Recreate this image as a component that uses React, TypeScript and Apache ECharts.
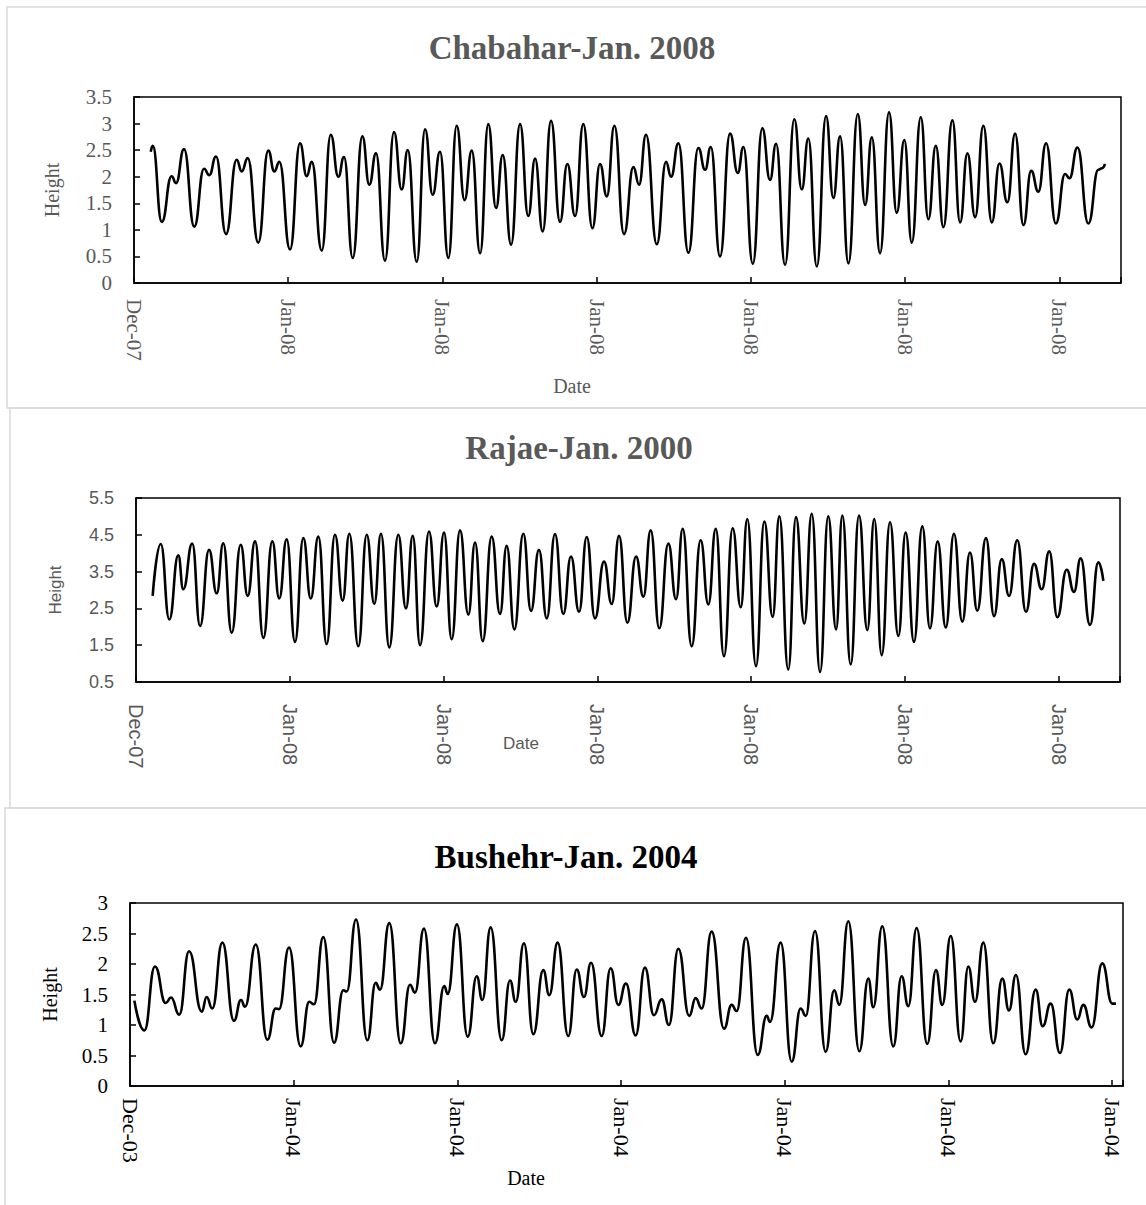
import React, { useEffect, useRef } from "react";
import * as echarts from "echarts";

// tide extrema: hours since the first axis tick, height (m)
const chabaharHours = [
  13.0, 14.6, 21.6, 29.3, 32.7, 38.9, 46.9, 54.5, 58.6, 63.8, 71.6, 79.9, 83.8, 88.5, 96.7,
  104.5, 109.2, 113.1, 121.4, 129.2, 134.4, 138.3, 146.1, 153.1, 159.0, 163.4, 170.2, 177.7,
  183.1, 188.3, 195.3, 202.3, 208.3, 213.0, 220.0, 226.5, 232.4, 238.1, 244.6, 251.1, 257.2,
  262.8, 269.3, 275.7, 281.7, 286.9, 293.4, 300.4, 306.8, 312.1, 318.0, 324.5, 331.5, 337.2,
  343.2, 349.6, 356.7, 362.6, 367.9, 373.8, 381.3, 388.6, 393.0, 398.4, 406.8, 414.0, 417.9,
  423.6, 431.4, 439.1, 444.4, 448.8, 456.0, 463.8, 469.8, 474.2, 481.5, 488.9, 494.9, 499.6,
  506.6, 513.8, 519.6, 524.7, 531.3, 538.5, 544.2, 549.4, 555.9, 563.2, 568.9, 574.1, 580.5,
  587.5, 593.5, 599.4, 605.2, 612.2, 618.1, 623.9, 629.8, 636.8, 642.8, 648.5, 654.5, 660.9,
  667.5, 673.4, 679.6, 685.6, 692.1, 698.1, 703.7, 709.7, 717.3, 724.5, 727.9, 734.1, 742.6,
  750.4, 753.1, 755.6,
];
const chabaharHeight = [
  2.47, 2.58, 1.15, 2.01, 1.88, 2.52, 1.06, 2.15, 2.03, 2.38, 0.92, 2.32, 2.1, 2.35, 0.76,
  2.49, 2.1, 2.28, 0.63, 2.63, 2.01, 2.28, 0.61, 2.79, 2.0, 2.37, 0.47, 2.76,
  1.85, 2.44, 0.42, 2.84, 1.76, 2.5, 0.4, 2.89, 1.66, 2.47, 0.47, 2.96, 1.56,
  2.49, 0.56, 2.99, 1.41, 2.41, 0.72, 2.99, 1.26, 2.34, 0.97, 3.05, 1.15, 2.24,
  1.26, 2.99, 1.03, 2.24, 1.63, 2.96, 0.92, 2.18, 1.85, 2.79, 0.73, 2.28, 2.0,
  2.63, 0.57, 2.54, 2.13, 2.56, 0.5, 2.81, 2.07, 2.56, 0.36, 2.91, 1.94, 2.62,
  0.34, 3.08, 1.76, 2.72, 0.31, 3.14, 1.6, 2.76, 0.37, 3.18, 1.47, 2.74, 0.56,
  3.21, 1.32, 2.69, 0.76, 3.12, 1.2, 2.58, 1.05, 3.06, 1.14, 2.44, 1.24, 2.96,
  1.14, 2.25, 1.52, 2.81, 1.09, 2.11, 1.72, 2.63, 1.12, 2.05, 1.97, 2.55, 1.12,
  2.13, 2.16, 2.24,
];
const chabaharTicks = ["Dec-07", "Jan-08", "Jan-08", "Jan-08", "Jan-08", "Jan-08", "Jan-08"];

const rajaeHours = [
  13.0, 19.3, 26.0, 33.0, 36.9, 43.9, 50.0, 57.0, 63.0, 68.1, 74.7, 81.7, 87.2, 92.9, 99.4,
  106.4, 111.8, 117.6, 124.1, 130.6, 136.4, 142.3, 148.8, 155.3, 161.3, 166.5, 173.5, 180.1,
  186.0, 191.2, 197.7, 204.7, 210.7, 216.0, 221.7, 228.7, 234.7, 240.4, 246.4, 252.9, 259.4,
  264.6, 270.6, 277.6, 284.1, 289.3, 295.3, 302.3, 308.3, 314.5, 320.6, 327.0, 333.5, 339.5,
  345.8, 351.8, 358.2, 365.3, 371.3, 377.0, 383.5, 390.3, 396.0, 401.7, 408.4, 415.5, 421.5,
  426.7, 433.7, 440.7, 446.7, 452.5, 458.9, 465.7, 472.0, 477.1, 483.9, 490.4, 496.9, 502.1,
  509.1, 515.1, 521.6, 527.4, 533.9, 540.3, 546.4, 551.3, 557.8, 564.3, 570.8, 576.2, 582.0,
  588.5, 595.0, 600.7, 607.2, 613.7, 619.7, 625.7, 632.0, 638.4, 644.9, 650.9, 656.6, 663.4,
  669.7, 675.7, 681.4, 687.8, 694.6, 700.9, 706.9, 712.8, 719.1, 726.4, 732.1, 737.3, 744.6,
  751.1, 755.0,
];
const rajaeHeight = [
  2.84, 4.25, 2.2, 3.94, 3.02, 4.26, 2.02, 4.09, 2.91, 4.27, 1.84, 4.23, 2.84, 4.32, 1.7,
  4.32, 2.77, 4.38, 1.59, 4.41, 2.77, 4.45, 1.53, 4.5, 2.71, 4.53, 1.47, 4.5,
  2.62, 4.53, 1.44, 4.5, 2.5, 4.47, 1.5, 4.59, 2.55, 4.56, 1.66, 4.62, 2.33,
  4.29, 1.61, 4.45, 2.35, 4.2, 1.93, 4.53, 2.43, 4.09, 2.23, 4.52, 2.35, 3.91,
  2.41, 4.44, 2.23, 3.77, 2.62, 4.47, 2.11, 3.91, 2.82, 4.62, 1.96, 4.26, 2.75,
  4.66, 1.47, 4.35, 2.61, 4.66, 1.2, 4.68, 2.53, 4.93, 0.93, 4.86, 2.27, 5.0,
  0.84, 4.98, 2.09, 5.07, 0.77, 5.0, 1.93, 5.02, 0.98, 5.02, 1.91, 4.93, 1.23,
  4.84, 1.75, 4.56, 1.59, 4.73, 1.96, 4.32, 1.98, 4.53, 2.14, 4.02, 2.44, 4.41,
  2.29, 3.84, 2.84, 4.35, 2.41, 3.71, 3.02, 4.05, 2.26, 3.55, 2.95, 3.86, 2.05,
  3.75, 3.25,
];
const rajaeTicks = ["Dec-07", "Jan-08", "Jan-08", "Jan-08", "Jan-08", "Jan-08", "Jan-08"];

const bushehrHours = [
  3.2, 10.5, 18.3, 26.2, 30.1, 36.1, 43.3, 52.6, 56.2, 60.3, 67.7, 76.2, 81.4, 84.3, 92.2,
  100.7, 106.8, 109.2, 116.6, 125.1, 131.4, 134.9, 141.7, 149.6, 156.4, 158.9, 165.7, 174.0,
  180.1, 183.3, 190.1, 198.5, 205.3, 208.9, 215.5, 223.6, 230.4, 232.9, 239.7, 247.6, 254.2,
  258.3, 264.4, 272.5, 278.6, 282.8, 288.8, 295.7, 303.0, 307.4, 313.5, 321.3, 327.5, 332.8,
  338.0, 345.8, 352.4, 358.0, 363.6, 370.7, 377.5, 384.1, 389.8, 395.1, 402.0, 410.0, 414.7,
  419.1, 426.4, 435.5, 441.1, 444.8, 451.6, 460.2, 466.8, 469.2, 477.0, 485.1, 491.7, 495.4,
  502.2, 510.0, 516.3, 520.0, 526.6, 534.7, 541.3, 544.9, 551.5, 559.6, 565.7, 570.6, 576.7,
  584.5, 590.9, 595.5, 601.7, 609.0, 614.6, 619.5, 625.6, 632.9, 639.5, 644.4, 649.5, 656.6,
  664.0, 669.1, 675.0, 681.8, 688.6, 694.5, 698.9, 705.0, 712.8, 720.1, 722.8,
];
const bushehrHeight = [
  1.4, 0.91, 1.96, 1.36, 1.45, 1.17, 2.21, 1.22, 1.46, 1.27, 2.35, 1.07, 1.41, 1.3, 2.32,
  0.76, 1.27, 1.26, 2.27, 0.65, 1.38, 1.34, 2.44, 0.71, 1.57, 1.55, 2.73, 0.75,
  1.69, 1.58, 2.67, 0.7, 1.66, 1.53, 2.58, 0.7, 1.64, 1.51, 2.65, 0.81, 1.8,
  1.41, 2.6, 0.75, 1.73, 1.38, 2.34, 0.85, 1.9, 1.49, 2.35, 0.82, 1.91, 1.46,
  2.02, 0.82, 1.93, 1.33, 1.68, 0.83, 1.94, 1.16, 1.42, 1.0, 2.25, 1.15, 1.44,
  1.27, 2.53, 0.94, 1.33, 1.23, 2.43, 0.51, 1.15, 1.05, 2.35, 0.4, 1.27, 1.15,
  2.54, 0.56, 1.57, 1.33, 2.7, 0.57, 1.76, 1.29, 2.62, 0.65, 1.8, 1.31, 2.59,
  0.69, 1.9, 1.33, 2.46, 0.73, 1.96, 1.38, 2.35, 0.7, 1.76, 1.24, 1.82, 0.52,
  1.58, 0.98, 1.35, 0.54, 1.58, 1.09, 1.33, 0.96, 2.01, 1.35, 1.35,
];
const bushehrTicks = ["Dec-03", "Jan-04", "Jan-04", "Jan-04", "Jan-04", "Jan-04", "Jan-04"];

const SERIF = "'Liberation Serif', 'Times New Roman', serif";
const SANS = "'Liberation Sans', Arial, sans-serif";
const NARROW = "'Liberation Sans Narrow', 'Liberation Sans', sans-serif";

// layout and look of each panel
const panels = [
  {
    title: "Chabahar-Jan. 2008", hours: chabaharHours, height: chabaharHeight, ticks: chabaharTicks,
    yMin: 0, yMax: 3.5, yStep: 0.5, xMax: 768,
    grid: { left: 134, top: 97, width: 987, height: 186 },
    ink: "#595959", tickFont: SERIF, tickSize: 21, xFont: SERIF, xSize: 21, nameFont: SERIF, nameSize: 20,
    titleX: 572, titleY: 48, heightX: 52, dateX: 572, dateY: 386, xLabelMargin: 16,
    frame: { x: 7, y: 7, width: 1160, height: 401 },
  },
  {
    title: "Rajae-Jan. 2000", hours: rajaeHours, height: rajaeHeight, ticks: rajaeTicks,
    yMin: 0.5, yMax: 5.5, yStep: 1, xMax: 768,
    grid: { left: 136, top: 498, width: 984, height: 184 },
    ink: "#595959", tickFont: SANS, tickSize: 18, xFont: NARROW, xSize: 20, nameFont: SANS, nameSize: 17,
    titleX: 579, titleY: 448, heightX: 55, dateX: 521, dateY: 743, xLabelMargin: 22,
    frame: { x: 10, y: 408, width: 1160, height: 400 },
  },
  {
    title: "Bushehr-Jan. 2004", hours: bushehrHours, height: bushehrHeight, ticks: bushehrTicks,
    yMin: 0, yMax: 3, yStep: 0.5, xMax: 728,
    grid: { left: 130, top: 903, width: 993, height: 183 },
    ink: "#000000", tickFont: SERIF, tickSize: 21, xFont: SERIF, xSize: 22, nameFont: SERIF, nameSize: 20,
    titleX: 566, titleY: 857, heightX: 50, dateX: 526, dateY: 1178, xLabelMargin: 12,
    frame: { x: 5, y: 808, width: 1160, height: 420 },
  },
];

const App: React.FC = () => {
  const chartRef = useRef<HTMLDivElement>(null);

  useEffect(() => {
    document.body.style.margin = "0";
    const chart = echarts.init(chartRef.current, null, { renderer: "svg" });

    const graphic: any[] = [];
    panels.forEach((p) => {
      graphic.push({
        type: "rect",
        shape: p.frame,
        style: { fill: "none", stroke: "#d9d9d9", lineWidth: 1.5 },
        z: 0,
      });
      graphic.push({
        type: "text",
        x: p.titleX,
        y: p.titleY,
        style: {
          text: p.title,
          fill: p.ink,
          fontFamily: SERIF,
          fontSize: 33,
          fontWeight: "bold",
          textAlign: "center",
          textVerticalAlign: "middle",
        },
      });
      graphic.push({
        type: "text",
        x: p.heightX,
        y: p.grid.top + p.grid.height / 2,
        rotation: Math.PI / 2,
        style: {
          text: "Height",
          fill: p.ink,
          fontFamily: p.nameFont,
          fontSize: p.nameSize,
          textAlign: "center",
          textVerticalAlign: "middle",
        },
      });
      graphic.push({
        type: "text",
        x: p.dateX,
        y: p.dateY,
        style: {
          text: "Date",
          fill: p.ink,
          fontFamily: p.nameFont,
          fontSize: p.nameSize,
          textAlign: "center",
          textVerticalAlign: "middle",
        },
      });
    });

    const option: echarts.EChartsOption = {
      animation: false,
      backgroundColor: "#ffffff",
      grid: panels.map((p) => ({
        ...p.grid,
        show: true,
        borderColor: "#000000",
        borderWidth: 1.5,
        backgroundColor: "transparent",
        containLabel: false,
      })),
      xAxis: panels.map((p, i) => ({
        type: "value",
        gridIndex: i,
        min: 0,
        max: p.xMax,
        interval: 120,
        axisLine: { show: true, lineStyle: { color: "#000000", width: 1.5 } },
        axisTick: { show: true, inside: true, length: 6, lineStyle: { color: "#000000", width: 1.5 } },
        splitLine: { show: false },
        axisLabel: {
          rotate: -90,
          margin: p.xLabelMargin,
          color: p.ink,
          fontFamily: p.xFont,
          fontSize: p.xSize,
          formatter: (v: number) => (v % 120 === 0 ? p.ticks[v / 120] ?? "" : ""),
        },
      })),
      yAxis: panels.map((p, i) => ({
        type: "value",
        gridIndex: i,
        min: p.yMin,
        max: p.yMax,
        interval: p.yStep,
        axisLine: { show: true, lineStyle: { color: "#000000", width: 1.5 } },
        axisTick: { show: true, inside: true, length: 6, lineStyle: { color: "#000000", width: 1.5 } },
        splitLine: { show: false },
        axisLabel: {
          margin: 22,
          color: p.ink,
          fontFamily: p.tickFont,
          fontSize: p.tickSize,
        },
      })),
      series: panels.map((p, i) => ({
        type: "line",
        name: p.title,
        xAxisIndex: i,
        yAxisIndex: i,
        data: p.hours.map((h, k) => [h, p.height[k]]),
        smooth: 0.5,
        smoothMonotone: "x",
        showSymbol: false,
        symbol: "none",
        lineStyle: { color: "#000000", width: 2.6 },
      })),
      graphic,
    };

    chart.setOption(option);
    return () => {
      chart.dispose();
    };
  }, []);

  return <div ref={chartRef} style={{ width: 1146, height: 1205 }} />;
};

export default App;
